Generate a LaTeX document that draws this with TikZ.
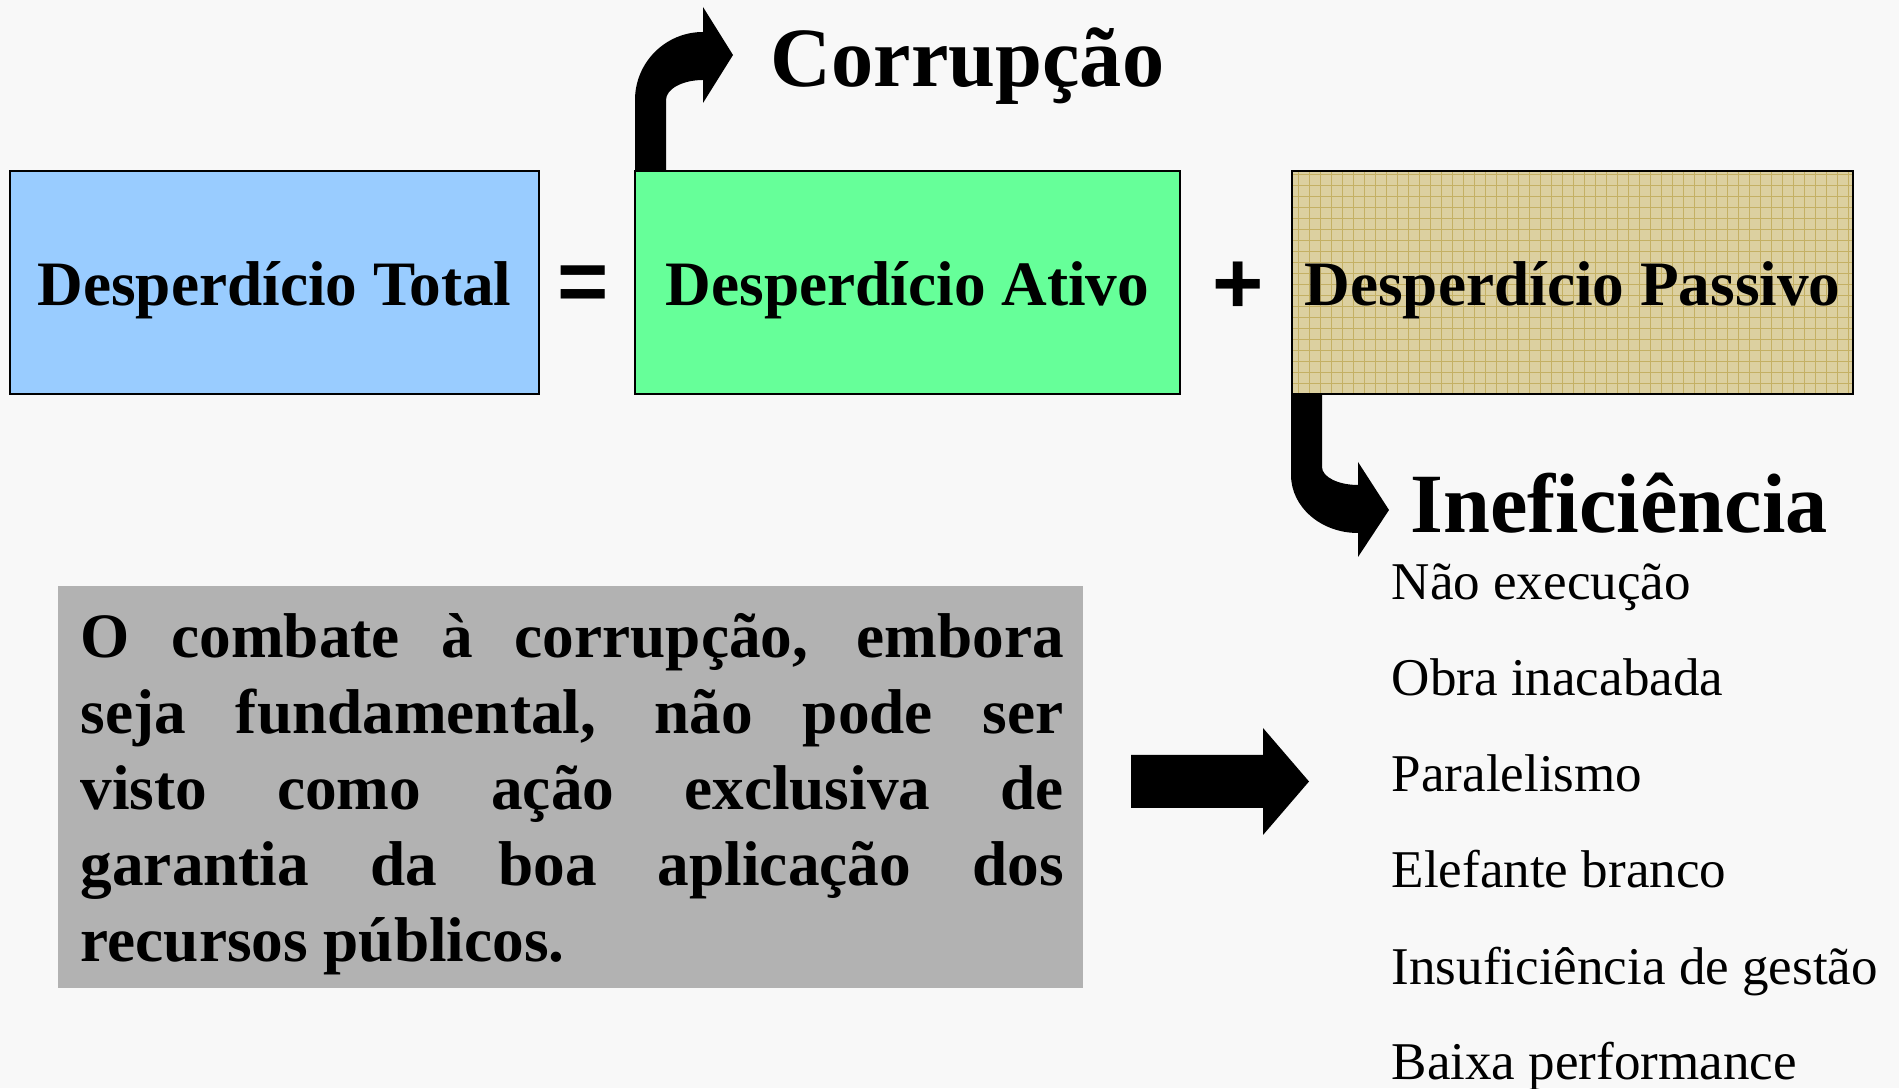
\documentclass[tikz,border=0pt]{standalone}
\usepackage{fontspec}
\setmainfont{Liberation Serif}
\newfontfamily\sinais{Liberation Sans}
\begin{document}
\begin{tikzpicture}[
    caixa/.style={line width=0.02cm, draw=black},
    rotulo/.style={anchor=base, font=\bfseries\fontsize{18}{21.6}\selectfont},
    titulo/.style={anchor=base west, inner sep=0pt, font=\bfseries\fontsize{24}{28}\selectfont},
    item/.style={anchor=base west, inner sep=0pt, font=\fontsize{15.1}{18}\selectfont},
    sinal/.style={inner sep=0pt, font=\sinais\bfseries\fontsize{25}{30}\selectfont},
    seta/.style={fill=black}
  ]
                            \useasboundingbox (0.000000,0.000000) rectangle (18.990000,10.880000);
                            \clip (0.000000,0.000000) rectangle (18.990000,10.880000);
                            {
                            % Changing color 248 248 248
                            \definecolor{r248g248b248}{rgb}{0.972549,0.972549,0.972549}%
                            \fill [r248g248b248] (0.000000,0.000000) rectangle (18.990000,10.880000);%

                            % Drawing box Desperdicio Total
                            \definecolor{r153g204b255}{rgb}{0.600000,0.800000,1.000000}%
                            \draw [caixa, fill=r153g204b255] (0.100000,6.940000) rectangle (5.390000,9.170000);%
                            \node [rotulo] (total) at (2.745000,7.820000) {Desperdício Total};%

                            % Marking sign =
                            \node [sinal] (igual) at (5.830000,7.990000) {=};%

                            % Drawing box Desperdicio Ativo
                            \definecolor{r102g255b153}{rgb}{0.400000,1.000000,0.600000}%
                            \draw [caixa, fill=r102g255b153] (6.350000,6.940000) rectangle (11.800000,9.170000);%
                            \node [rotulo] (ativo) at (9.075000,7.820000) {Desperdício Ativo};%

                            % Marking sign +
                            \node [sinal] (mais) at (12.380000,8.000000) {+};%

                            % Drawing box Desperdicio Passivo (with grid)
                            \definecolor{r220g208b160}{rgb}{0.862745,0.815686,0.627451}%
                            \definecolor{r196g176b100}{rgb}{0.768627,0.690196,0.392157}%
                            \fill [r220g208b160] (12.920000,6.940000) rectangle (18.530000,9.170000);%
                            \begin{scope}
                            \clip (12.920000,6.940000) rectangle (18.530000,9.170000);
                            \draw [r196g176b100, line width=0.010cm, step=0.110000cm] (12.920000,6.940000) grid (18.530000,9.170000);%
                            \end{scope}
                            \draw [caixa] (12.920000,6.940000) rectangle (18.530000,9.170000);%
                            \node [rotulo] (passivo) at (15.725000,7.820000) {Desperdício Passivo};%

                            % Drawing bent arrow up to Corrupcao
                            \fill [seta] (6.350000,9.170000) -- (6.350000,9.880000)
                              arc [start angle=180, end angle=90, x radius=0.680000, y radius=0.680000]
                              -- (7.030000,10.810000) -- (7.330000,10.330000) -- (7.030000,9.850000)
                              -- (7.030000,10.080000)
                              arc [start angle=90, end angle=180, x radius=0.370000, y radius=0.200000]
                              -- (6.660000,9.170000) -- cycle;%
                            \node [titulo] (corrupcao) at (7.700000,10.010000) {Corrupção};%

                            % Drawing bent arrow down to Ineficiencia
                            \fill [seta] (12.910000,6.940000) -- (12.910000,6.130000)
                              arc [start angle=180, end angle=270, x radius=0.670000, y radius=0.580000]
                              -- (13.580000,5.310000) -- (13.890000,5.780000) -- (13.580000,6.260000)
                              -- (13.580000,6.030000)
                              arc [start angle=270, end angle=180, x radius=0.360000, y radius=0.180000]
                              -- (13.220000,6.940000) -- cycle;%
                            \node [titulo] (ineficiencia) at (14.100000,5.550000) {Ineficiência};%

                            % Drawing grey box with text
                            \definecolor{r178g178b178}{rgb}{0.698039,0.698039,0.698039}%
                            \fill [r178g178b178] (0.580000,1.000000) rectangle (10.830000,5.020000);%
                            \node [anchor=base west, inner sep=0pt, text width=9.830000cm, align=justify,
                              font=\bfseries\fontsize{18}{21.6}\selectfont] (combate) at (0.800000,4.300000)
                              {\tolerance=10000\hbadness=10000 O combate à corrupção, embora\linebreak
                               seja fundamental, não pode ser\linebreak
                               visto como ação exclusiva de\linebreak
                               garantia da boa aplicação dos\linebreak
                               recursos públicos.};%

                            % Drawing block arrow
                            \fill [seta] (11.310000,3.330000) -- (12.630000,3.330000) -- (12.630000,3.600000)
                              -- (13.090000,3.065000) -- (12.630000,2.530000) -- (12.630000,2.800000)
                              -- (11.310000,2.800000) -- cycle;%

                            % Marking list items
                            \node [item] (naoexec) at (13.910000,4.880000) {Não execução};%
                            \node [item] (obra) at (13.910000,3.920000) {Obra inacabada};%
                            \node [item] (paralelismo) at (13.910000,2.960000) {Paralelismo};%
                            \node [item] (elefante) at (13.910000,2.000000) {Elefante branco};%
                            \node [item] (gestao) at (13.910000,1.040000) {Insuficiência de gestão};%
                            \node [item] (baixa) at (13.910000,0.080000) {Baixa performance};%
                            }
\end{tikzpicture}
\end{document}
